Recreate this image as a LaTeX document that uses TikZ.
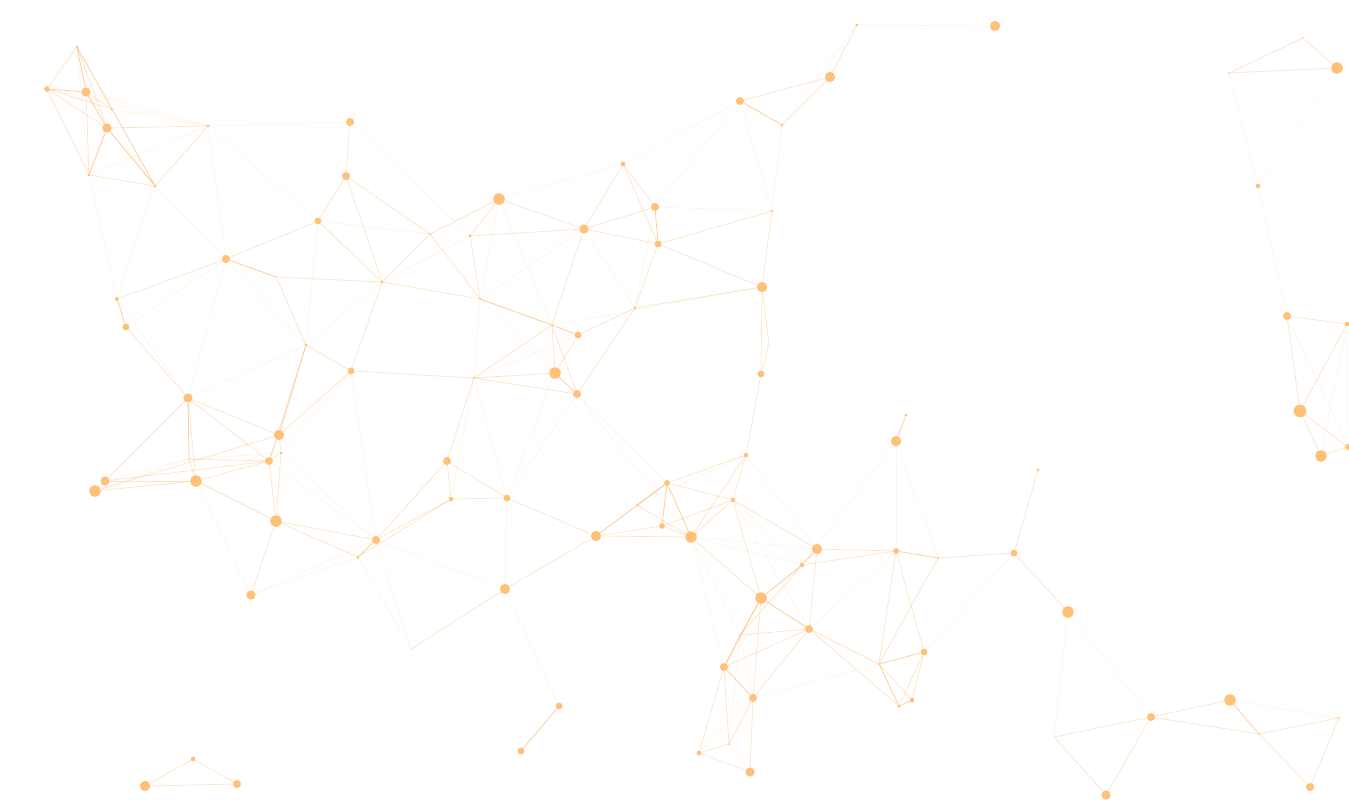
\documentclass[tikz,border=0pt]{standalone}
\usetikzlibrary{backgrounds}
\definecolor{dotc}{RGB}{255,192,120}
\definecolor{linec}{RGB}{250,170,80}
\tikzset{
  dotnode/.style={circle,fill=dotc,inner sep=0pt,minimum size={1.15*#1}},
  strongedge/.style={draw=linec,opacity=0.55,line width=0.8pt},
  midedge/.style={draw=linec,opacity=0.32,line width=0.7pt},
  faintedge/.style={draw=linec,opacity=0.12,line width=0.6pt}
}
\begin{document}
\begin{tikzpicture}[x=1pt,y=-1pt]
\useasboundingbox (0,0) rectangle (1349,800);
\foreach \n/\x/\y/\d in {
a1/77/47/2.5, a2/47/89/5, a3/86/92/8, a4/112/109/2.5, a5/107/128/8, a6/208/126/3,
a7/89/175/2.5, a8/155/186/3, a9/350/122/7, a10/346/176/7, a11/226/259/7, a12/318/221/6,
a13/117/299/3.5, a14/126/327/6, a15/276/277/1.5, a16/382/282/3, a17/430/234/2, a18/470/236/3,
a19/499/199/10, a20/584/229/8, a21/623/164/4, a22/655/207/7, a23/658/244/6, a24/480/299/2,
a25/306/345/3, a26/351/371/6, a27/474/378/2, a28/552/325/2, a29/578/335/6, a30/555/373/10,
a31/577/394/7, a32/635/308/3, a33/188/398/8, a34/279/435/9, a35/281/453/3, a36/269/461/7,
a37/189/459/1.5, a38/105/481/8, a39/95/491/10, a40/196/481/10, a41/276/521/10, a42/251/595/8,
a43/145/786/9, a44/193/759/4, a45/237/784/7, a46/447/461/7, a47/451/499/4, a48/507/498/6,
a49/376/540/7, a50/358/557/3, a51/411/649/1, a52/505/589/9, a53/559/706/6, a54/521/751/6,
a55/596/536/9,
b1/857/25/3, b2/995/26/9, b3/830/77/9, b4/740/101/7, b5/782/125/3, b6/772/211/2,
b7/762/287/9, b8/769/343/1, b9/761/374/6, b10/746/455/4, b11/733/500/4, b12/667/483/5,
b13/637/505/1.5, b14/662/526/5, b15/691/537/10, b16/906/415/3, b17/896/441/9, b18/1038/470/3,
c1/817/549/9, c2/802/565/4, c3/896/551/5, c4/938/558/2, c5/1014/553/6, c6/761/598/10,
c7/809/629/7, c8/740/635/2, c9/724/667/7, c10/753/698/7, c11/879/664/2, c12/924/652/6,
c13/899/706/3, c14/912/700/4, c15/729/744/2, c16/699/753/4, c17/750/772/8,
d1/1068/612/10, d2/1151/717/7, d3/1230/700/10, d4/1054/737/1, d5/1259/734/2, d6/1339/718/1.5,
d7/1106/795/8, d8/1310/787/7,
e1/1303/38/1.5, e2/1229/73/1.5, e3/1337/68/10, e4/1258/186/4, e5/1287/316/7, e6/1347/324/4,
e7/1300/411/11, e8/1321/456/10, e9/1348/447/5}
  \node[dotnode=\d pt] (\n) at (\x,\y) {};
\begin{scope}[on background layer]
\fill[white] (0,0) rectangle (1349,800);
\foreach \u/\v in {a1/a3, a2/a3, a3/a5, a5/a7, a5/a8, a13/a14, a11/a15, a25/a34, a33/a37,
  a24/a28, a28/a29, a30/a31, a49/a50, a53/a54, a55/b12, b12/b14, b12/b15, b4/b5, a22/a23,
  c1/c2, c2/c6, c6/c7, c6/c9, c9/c10, c3/c4, c11/c12, c11/c13, c13/c14, b16/b17, d3/d5}
  \draw[strongedge] (\u) -- (\v);
\foreach \u/\v in {a1/a2, a1/a4, a1/a5, a1/a8, a2/a4, a2/a5, a2/a7, a3/a4, a3/a7, a4/a8, a5/a6,
  a6/a8, a7/a8, a9/a10, a10/a12, a10/a17, a10/a16, a11/a12, a11/a13, a12/a16, a15/a16, a15/a25,
  a16/a17, a16/a26, a16/a24, a17/a19, a17/a24, a18/a19, a18/a24, a18/a20, a19/a20, a20/a21,
  a20/a22, a20/a23, a20/a28, a21/a22, a21/a23, a23/a32, a23/b7, a29/a32, a14/a33, a33/a34,
  a33/a36, a33/a40, a33/a38, a25/a36, a25/a26, a26/a34, a26/a27, a34/a36, a34/a35, a35/a36,
  a35/a41, a36/a40, a36/a41, a36/a37, a37/a40, a38/a40, a38/a36, a39/a40, a39/a34, a40/a41,
  a41/a49, a41/a50, a41/a42, a27/a30, a27/a31, a27/a28, a27/a46, a28/a30, a28/a31, a29/a30,
  a31/a32, a46/a47, a46/a48, a46/a49, a47/a48, a47/a49, a47/a50, a48/a55, a52/a55, a51/a52,
  a55/b14, a55/b15, b12/b13, b14/b15, b13/b15, b10/b12, b10/b11, b11/b12, b11/b15, b11/b14,
  b11/c1, b11/c6, b10/b15, b3/b4, b3/b5, b1/b3, b6/b7, b7/b8, b8/b9, b7/b9, b9/b10, b6/a23,
  b7/a32, b15/c6, c1/c3, c1/c7, c2/c3, c2/c8, c6/c8, c6/c10, c7/c8, c7/c9, c7/c10, c7/c11,
  c7/c13, c9/c15, c9/c16, c10/c15, c10/c17, c15/c16, c16/c17, c8/c9, c3/c11, c3/c12, c4/c5,
  c4/c11, c12/c13, c12/c14, c11/c14, c5/d1, c5/b18, d2/d3, d2/d4, d2/d5, d2/d7, d5/d6, d5/d8,
  d6/d8, d4/d7, e1/e2, e1/e3, e2/e3, e5/e6, e5/e7, e6/e7, e7/e8, e7/e9, e8/e9, a43/a44,
  a44/a45, a43/a45}
  \draw[midedge] (\u) -- (\v);
\foreach \u/\v in {a1/a7, a2/a6, a3/a6, a3/a8, a4/a6, a4/a7, a6/a7, a6/a9, a6/a11, a6/a12,
  a7/a13, a8/a13, a8/a11, a9/a18, a11/a14, a11/a25, a11/a33, a13/a33, a12/a17, a12/a25,
  a16/a25, a16/a18, a19/a21, a19/a24, a19/a28, a20/a24, a20/a32, a21/b4, a22/b6, a22/a32,
  a24/a30, a24/a27, a25/a33, a26/a35, a26/a49, a27/a47, a27/a48, a27/a29, a31/a48, a31/b12,
  a31/b15, a30/a48, a37/a38, a37/a39, a37/a35, a40/a42, a42/a49, a42/a50, a35/a49, a36/a49,
  a48/a52, a49/a52, a49/a51, a50/a51, a52/a53, b1/b2, b1/b5, b4/b6, b5/b6, b4/a22, b7/a28,
  b10/b13, b10/c1, b13/b14, b15/c1, b15/c2, b15/c8, b15/c9, b11/c2, b11/c7, c7/c3, c2/c9,
  c8/c10, c10/c16, c15/c17, c8/c15, c5/c12, b17/c3, b17/c4, b17/c2, c10/c11, d1/d2, d1/d4,
  d3/d6, e2/e4, e4/e5, e6/e9, e5/e9, e6/e8}
  \draw[faintedge] (\u) -- (\v);
\draw[faintedge,opacity=0.06] (e3) -- (e4);
\end{scope}
\end{tikzpicture}
\end{document}
